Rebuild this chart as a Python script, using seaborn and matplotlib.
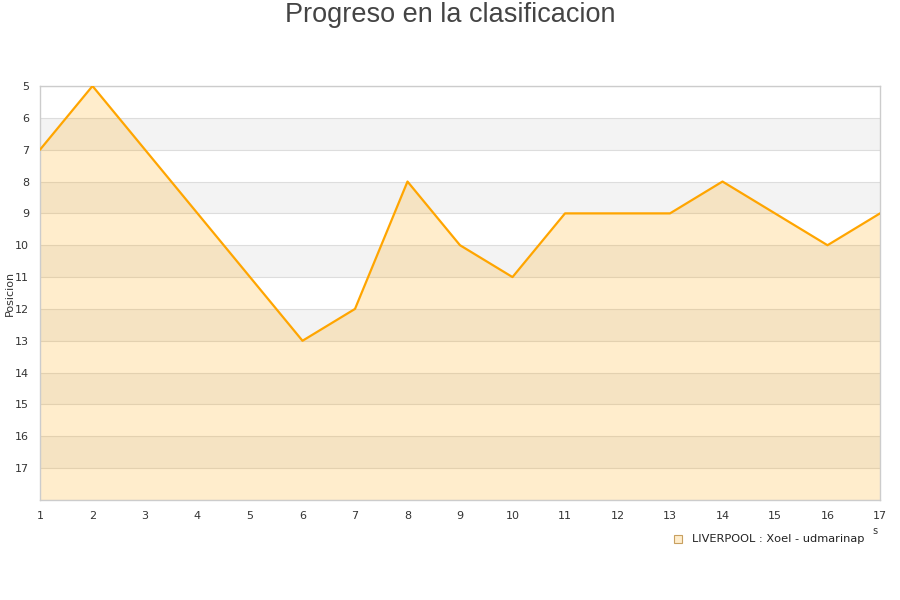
import matplotlib
matplotlib.use("Agg")
import matplotlib.pyplot as plt
import seaborn as sns
import pandas as pd
from matplotlib.patches import Rectangle

jornadas = list(range(1, 18))
posiciones = [7, 5, 7, 9, 11, 13, 12, 8, 10, 11, 9, 9, 9, 8, 9, 10, 9]
y_ticks = list(range(5, 18))
title = "Progreso en la clasificacion"
ylabel = "Posicion"
legend_label = "LIVERPOOL : Xoel - udmarinap"

sns.set_theme(style="white")
plt.rcParams['font.family'] = ['DejaVu Sans']

df = pd.DataFrame({"Jornada": jornadas, "Posicion": posiciones})

fig = plt.figure(figsize=(9, 6), dpi=100)
ax = fig.add_axes([40/900, 1-500/600, 840/900, 414/600])

# alternating bands
for k in range(6, 18, 2):
    ax.axhspan(k, k + 1, color="#f3f3f3", zorder=0, lw=0)
for k in range(5, 19):
    ax.axhline(k, color="#dddddd", lw=0.8, zorder=1)

ax.fill_between(df["Jornada"], df["Posicion"], 18, color="#FFA500", alpha=0.2, lw=0, zorder=2)
sns.lineplot(data=df, x="Jornada", y="Posicion", ax=ax, color="#FFA500", lw=1.6, zorder=3)

ax.set_xlim(1, 17)
ax.set_ylim(18, 5)
ax.set_xticks(jornadas)
ax.set_yticks(y_ticks)
ax.tick_params(axis="both", length=0, labelsize=8, colors="#333333", pad=8)
ax.set_xlabel("")
ax.set_ylabel("")
for s in ax.spines.values():
    s.set_color("#cccccc")
    s.set_linewidth(1)

fig.text(10/900, 1-293/600, ylabel, ha="center", va="center", rotation=90,
         fontsize=8, color="#333333")
fig.text(0.5, 1-15/600, title, ha="center", va="center", fontsize=19.5, color="#444444",
         family=["Liberation Sans", "DejaVu Sans"])

# legend
fig.patches.append(Rectangle((674/900, 1-543/600), 8/900, 8/600, transform=fig.transFigure,
                             facecolor="#FFEDCC", edgecolor="#c8a060", lw=0.8))
fig.text(692/900, 1-539/600, legend_label, ha="left", va="center", fontsize=8.2, color="#222222")
fig.text(875/900, 1-531/600, "s", ha="center", va="center", fontsize=7, color="#333333")

fig.savefig("out.png", dpi=100)
